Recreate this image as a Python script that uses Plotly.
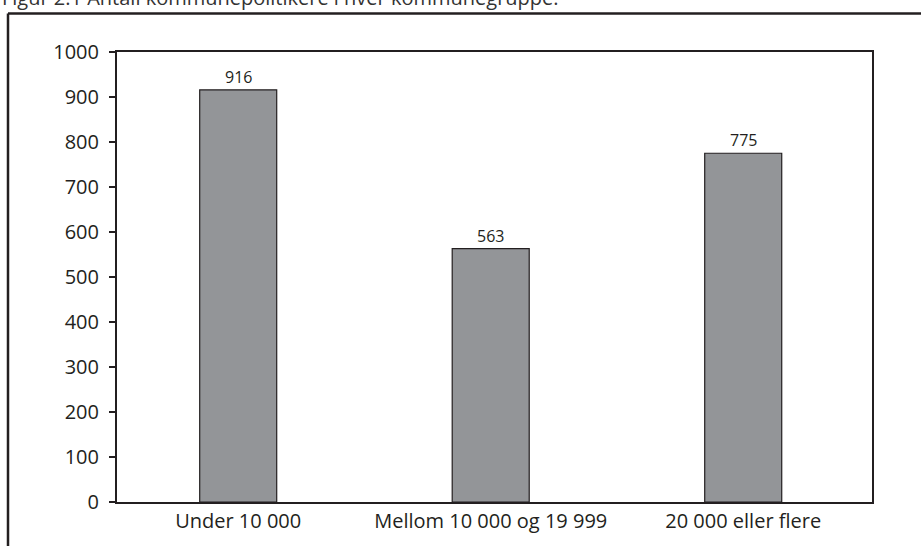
import plotly.graph_objects as go

categories = ["Under 10 000", "Mellom 10 000 og 19 999", "20 000 eller flere"]
values = [916, 563, 775]
tick_vals = [0, 100, 200, 300, 400, 500, 600, 700, 800, 900, 1000]
title_text = "Figur 2.1 Antall kommunepolitikere i hver kommunegruppe."

FONT = "Open Sans"
INK = "#231f20"

W, H = 921, 546
L, T, R, B = 117, 52, 49, 39
pw = W - L - R
ph = H - T - B

def px_x(p):
    return (p - L) / pw

def px_y(p):
    return (H - B - p) / ph

fig = go.Figure()
fig.add_trace(go.Bar(
    x=categories, y=values,
    width=0.305,
    marker=dict(color="#939598", line=dict(color=INK, width=1.2)),
    hoverinfo="x+y",
))

# value labels just above each bar
for c, v in zip(categories, values):
    fig.add_annotation(x=c, y=v, text=str(v), xref="x", yref="y",
                       yanchor="bottom", showarrow=False, yshift=0,
                       font=dict(family=FONT, size=16, color=INK))

fig.update_layout(
    width=W, height=H,
    margin=dict(l=L, r=R, t=T, b=B),
    paper_bgcolor="white", plot_bgcolor="white",
    showlegend=False,
    font=dict(family=FONT, color=INK, size=20),
)
fig.update_xaxes(
    type="category", range=[-0.48, 2.51],
    showline=True, linecolor=INK, linewidth=2, mirror=True,
    ticks="", showgrid=False,
    tickfont=dict(family=FONT, size=20, color=INK),
)
fig.update_yaxes(
    range=[0, 1000], tickvals=tick_vals,
    showline=True, linecolor=INK, linewidth=2, mirror=True,
    ticks="outside", ticklen=6, tickwidth=1.5, tickcolor=INK,
    ticklabelstandoff=6,
    showgrid=False, zeroline=False,
    tickfont=dict(family=FONT, size=20, color=INK),
)

# outer frame (cut off at right and bottom)
fig.add_shape(type="line", xref="paper", yref="paper",
              x0=px_x(8), x1=px_x(W + 20), y0=px_y(13), y1=px_y(13),
              line=dict(color=INK, width=2.5))
fig.add_shape(type="line", xref="paper", yref="paper",
              x0=px_x(8), x1=px_x(8), y0=px_y(13), y1=px_y(H + 20),
              line=dict(color=INK, width=2.5))

# partially visible caption at top (cut off by the page edge, as in the source)
fig.add_annotation(text=title_text, xref="paper", yref="paper",
                   x=px_x(0), y=px_y(13), xanchor="left", yanchor="bottom",
                   showarrow=False, font=dict(family=FONT, size=20, color="#333333"))

fig.write_html(
    "out.html",
    config={"displayModeBar": False},
    post_script="document.body.style.margin='0';document.body.style.overflow='hidden';",
)
